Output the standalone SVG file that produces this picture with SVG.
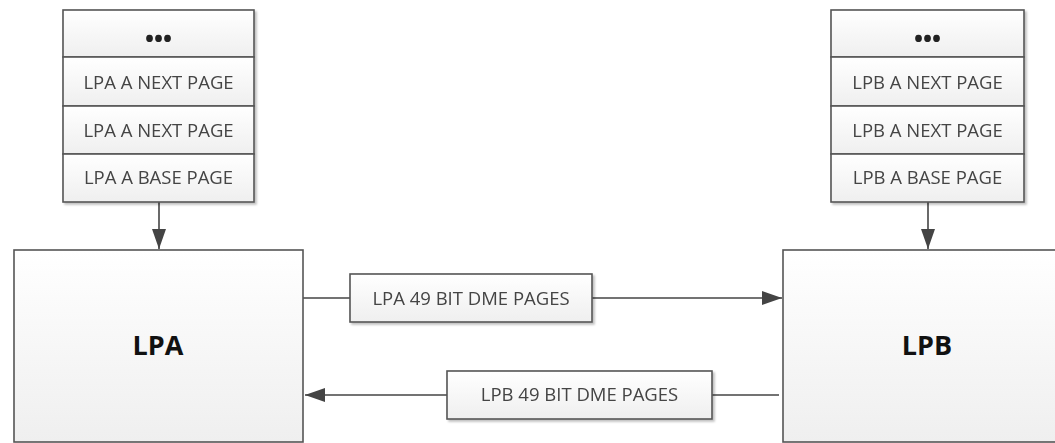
<svg xmlns="http://www.w3.org/2000/svg" width="1055" height="443" viewBox="0 0 1055 443">
  <defs>
    <linearGradient id="boxFill" x1="0" y1="0" x2="0" y2="1">
      <stop offset="0" stop-color="#ffffff"/>
      <stop offset="1" stop-color="#efefef"/>
    </linearGradient>
    <filter id="shadow" x="-5%" y="-5%" width="115%" height="120%">
      <feGaussianBlur in="SourceAlpha" stdDeviation="1.2"/>
      <feOffset dx="2" dy="2" result="b"/>
      <feComponentTransfer><feFuncA type="linear" slope="0.25"/></feComponentTransfer>
      <feMerge><feMergeNode/><feMergeNode in="SourceGraphic"/></feMerge>
    </filter>
    <marker id="arrow" viewBox="0 0 20 14" refX="20" refY="7" markerWidth="20" markerHeight="14" markerUnits="userSpaceOnUse" orient="auto">
      <path d="M0,0 L20,7 L0,14 Z" fill="#444"/>
    </marker>
  </defs>
  <style>
    .box { fill: url(#boxFill); stroke: #555; stroke-width: 1.6; }
    .lbl { font-family: "Open Sans", "Liberation Sans", sans-serif; font-size: 18.5px; fill: #444; text-anchor: middle; }
    .big { font-family: "Open Sans", "Liberation Sans", sans-serif; font-size: 27px; font-weight: bold; fill: #111; text-anchor: middle; }
    .dots { font-family: "Open Sans", "Liberation Sans", sans-serif; font-size: 24px; font-weight: bold; fill: #222; text-anchor: middle; }
    .conn { stroke: #444; stroke-width: 1.6; fill: none; }
  </style>

  <rect width="1055" height="443" fill="#ffffff"/>

  <!-- connectors -->
  <g id="connectors">
    <line class="conn" x1="159" y1="202" x2="159" y2="249" marker-end="url(#arrow)"/>
    <line class="conn" x1="928" y1="202" x2="928" y2="249" marker-end="url(#arrow)"/>
    <line class="conn" x1="303" y1="298" x2="350" y2="298"/>
    <line class="conn" x1="592" y1="298" x2="782" y2="298" marker-end="url(#arrow)"/>
    <line class="conn" x1="779" y1="395" x2="712" y2="395"/>
    <line class="conn" x1="447" y1="395" x2="305" y2="395" marker-end="url(#arrow)"/>
  </g>

  <!-- LPA page stack -->
  <g id="lpa-pages" filter="url(#shadow)">
    <rect class="box" x="63" y="10" width="191" height="47"/>
    <rect class="box" x="63" y="57" width="191" height="49"/>
    <rect class="box" x="63" y="106" width="191" height="48"/>
    <rect class="box" x="63" y="154" width="191" height="48"/>
    <text class="dots" x="158.5" y="47">•••</text>
    <text class="lbl" x="158.5" y="89">LPA A NEXT PAGE</text>
    <text class="lbl" x="158.5" y="137">LPA A NEXT PAGE</text>
    <text class="lbl" x="158.5" y="184">LPA A BASE PAGE</text>
  </g>

  <!-- LPB page stack -->
  <g id="lpb-pages" filter="url(#shadow)">
    <rect class="box" x="831" y="10" width="193" height="47"/>
    <rect class="box" x="831" y="57" width="193" height="49"/>
    <rect class="box" x="831" y="106" width="193" height="48"/>
    <rect class="box" x="831" y="154" width="193" height="48"/>
    <text class="dots" x="927.5" y="47">•••</text>
    <text class="lbl" x="927.5" y="89">LPB A NEXT PAGE</text>
    <text class="lbl" x="927.5" y="137">LPB A NEXT PAGE</text>
    <text class="lbl" x="927.5" y="184">LPB A BASE PAGE</text>
  </g>

  <!-- LPA node -->
  <g id="lpa">
    <rect class="box" x="14" y="250" width="289" height="192"/>
    <text class="big" x="158" y="355">LPA</text>
  </g>

  <!-- LPB node -->
  <g id="lpb">
    <rect class="box" x="783" y="250" width="290" height="192"/>
    <text class="big" x="927" y="355">LPB</text>
  </g>

  <!-- link labels -->
  <g id="lpa-dme" filter="url(#shadow)">
    <rect class="box" x="350" y="274" width="242" height="48"/>
    <text class="lbl" x="471" y="305">LPA 49 BIT DME PAGES</text>
  </g>
  <g id="lpb-dme" filter="url(#shadow)">
    <rect class="box" x="447" y="371" width="265" height="48"/>
    <text class="lbl" x="579.5" y="401">LPB 49 BIT DME PAGES</text>
  </g>
</svg>
